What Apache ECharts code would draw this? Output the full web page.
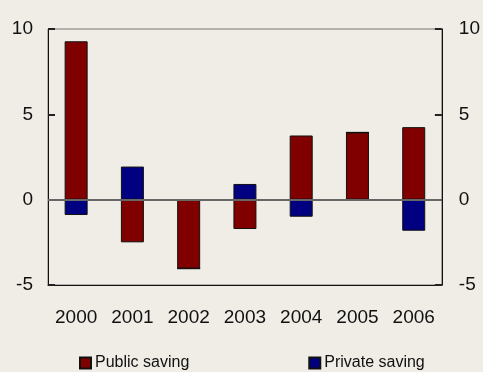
<!DOCTYPE html>
<html>
<head>
<meta charset="utf-8">
<script src="https://cdn.jsdelivr.net/npm/echarts@6/dist/echarts.min.js"></script>
<style>
  html, body { margin: 0; padding: 0; background: #f0ede6; }
  #main { width: 483px; height: 372px; }
</style>
</head>
<body>
<div id="main"></div>
<script>
// savings contributions, per year
var years = ['2000', '2001', '2002', '2003', '2004', '2005', '2006'];
var publicSaving = [9.28, -2.5, -4.04, -1.72, 3.76, 3.94, 4.25];
var privateSaving = [-0.9, 1.94, 0, 0.92, -1.0, 0, -1.82];
var yTicks = [-5, 0, 5, 10];

var font = '"Liberation Sans", Arial, sans-serif';
var chart = echarts.init(document.getElementById('main'));

function yAxisOpt(pos) {
  return {
    type: 'value',
    position: pos,
    min: yTicks[0],
    max: yTicks[yTicks.length - 1],
    interval: 5,
    axisLine: { show: true, lineStyle: { color: '#111', width: 1 } },
    axisTick: { show: true, inside: true, length: 7, lineStyle: { color: '#222', width: 2 } },
    axisLabel: { color: '#111', fontFamily: font, fontSize: 19, margin: pos === 'left' ? 15 : 17 },
    splitLine: { show: false }
  };
}

option = {
  backgroundColor: '#f0ede6',
  animation: false,
  graphic: [{
    type: 'text', left: 15, top: -15,
    style: { text: 'percent of GDP change', font: '15.5px ' + font, fill: '#111' }
  }],
  grid: {
    left: 48, right: 39, top: 29, bottom: 87,
    show: true, borderColor: '#777', borderWidth: 1, backgroundColor: 'transparent'
  },
  legend: { // 레전드
    data: ['Public saving', 'Private saving'],
    left: 74,
    top: 350,
    itemWidth: 11,
    itemHeight: 11,
    itemGap: 119,
    icon: 'rect',
    textStyle: { color: '#111', fontFamily: font, fontSize: 16, padding: [0, 0, 0, -1] }
  },
  xAxis: {
    type: 'category',
    data: years,
    axisLine: { onZero: false, lineStyle: { color: '#111', width: 1 } },
    axisTick: { inside: true, length: 7, lineStyle: { color: '#444' } },
    axisLabel: { color: '#111', fontFamily: font, fontSize: 19, margin: 23, interval: 0 }
  },
  yAxis: [yAxisOpt('left'), yAxisOpt('right')],
  series: [
    {
      name: 'Public saving',
      type: 'bar',
      stack: 'saving',
      barWidth: 23,
      data: publicSaving,
      itemStyle: { color: '#800000', borderColor: '#111', borderWidth: 1 },
      markLine: {
        silent: true,
        symbol: 'none',
        label: { show: false },
        lineStyle: { color: '#666', width: 2, type: 'solid' },
        data: [{ yAxis: 0 }]
      }
    },
    {
      name: 'Private saving',
      type: 'bar',
      stack: 'saving',
      barWidth: 23,
      data: privateSaving,
      itemStyle: { color: '#000080', borderColor: '#111', borderWidth: 1 }
    }
  ]
};

chart.setOption(option);
</script>
</body>
</html>
